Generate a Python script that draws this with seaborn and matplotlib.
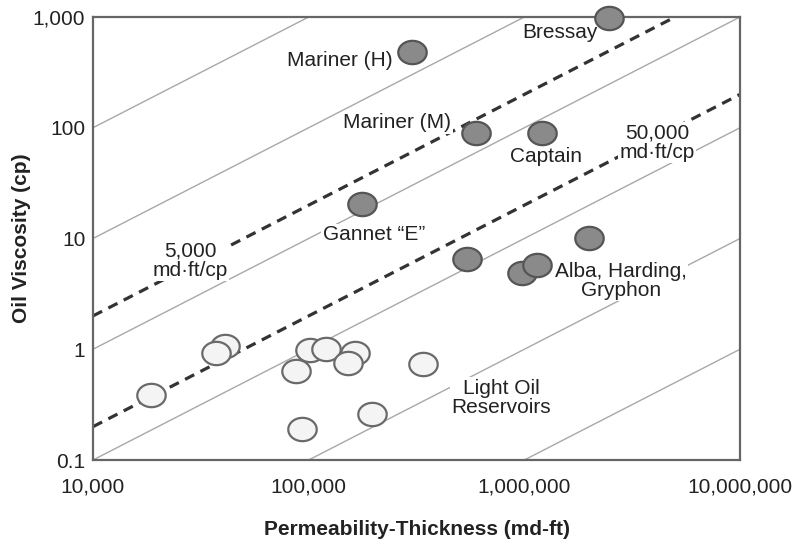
import numpy as np
import pandas as pd
import matplotlib
matplotlib.use("Agg")
import matplotlib.pyplot as plt
import seaborn as sns

# heavy-oil fields (dark markers)
heavy_kh = [2.47e6, 3.0e5, 6.0e5, 1.21e6, 1.77e5, 5.4e5, 2.0e6, 9.75e5, 1.14e6]
heavy_visc = [980, 480, 90, 90, 20.5, 6.5, 10.2, 4.9, 5.8]

# light-oil reservoirs (open markers)
light_kh = [4.1e4, 3.7e4, 1.86e4, 1.01e5, 1.2e5, 1.64e5, 1.52e5, 8.7e4, 3.39e5, 1.96e5, 9.3e4]
light_visc = [1.06, 0.93, 0.39, 0.98, 1.0, 0.92, 0.75, 0.64, 0.74, 0.26, 0.19]

# constant mobility-thickness lines (md-ft/cp)
solid_lines = [1e2, 1e3, 1e4, 1e5, 1e6, 1e7]
dashed_lines = [5e3, 5e4]

x_ticks = [1e4, 1e5, 1e6, 1e7]
x_tick_labels = ["10,000", "100,000", "1,000,000", "10,000,000"]
y_ticks = [0.1, 1, 10, 100, 1000]
y_tick_labels = ["0.1", "1", "10", "100", "1,000"]

# annotations: text, x, y
labels = [
    ("Mariner (H)", 1.40e5, 409),
    ("Bressay", 1.46e6, 718),
    ("Mariner (M)", 2.57e5, 111),
    ("Captain", 1.26e6, 54.7),
    ("50,000\nmd\u00b7ft/cp", 4.12e6, 73),
    ("Gannet \u201cE\u201d", 2.01e5, 10.8),
    ("5,000\nmd\u00b7ft/cp", 2.82e4, 6.3),
    ("Alba, Harding,\nGryphon", 2.8e6, 4.16),
    ("Light Oil\nReservoirs", 7.8e5, 0.366),
]

sns.set_style("white")
plt.rcParams["font.family"] = ["Liberation Sans", "DejaVu Sans"]

fig = plt.figure(figsize=(7.94, 5.44), dpi=100)
ax = fig.add_axes([93 / 794, 84 / 544, 647 / 794, 443 / 544])
ax.set_xscale("log")
ax.set_yscale("log")
ax.set_xlim(1e4, 1e7)
ax.set_ylim(0.1, 1000)

xs = np.array([1e4, 1e7])
for c in solid_lines:
    ax.plot(xs, xs / c, color="#a8a8a8", lw=1.0, zorder=1)
for c in dashed_lines:
    ax.plot(xs, xs / c, color="#333333", lw=2.3, dashes=(3.2, 2.2), zorder=2)

# slightly squashed circle like the original
t = np.linspace(0, 2 * np.pi, 60)
ellipse = np.column_stack([np.cos(t), 0.82 * np.sin(t)])

heavy = pd.DataFrame({"kh": heavy_kh, "visc": heavy_visc})
light = pd.DataFrame({"kh": light_kh, "visc": light_visc})
sns.scatterplot(data=light, x="kh", y="visc", marker=ellipse, s=420,
                color="#f4f4f4", edgecolor="#6a6a6a", linewidth=1.6,
                ax=ax, zorder=5, clip_on=False, legend=False)
sns.scatterplot(data=heavy, x="kh", y="visc", marker=ellipse, s=420,
                color="#8a8a8a", edgecolor="#555555", linewidth=1.6,
                ax=ax, zorder=5, clip_on=False, legend=False)

for txt, x, y in labels:
    ax.text(x, y, txt, ha="center", va="center", fontsize=15,
            color="#222222", linespacing=1.0, zorder=4,
            bbox=dict(facecolor="white", edgecolor="none", pad=1.0))

ax.set_xticks(x_ticks)
ax.set_xticklabels(x_tick_labels)
ax.set_yticks(y_ticks)
ax.set_yticklabels(y_tick_labels)
ax.minorticks_off()
ax.tick_params(axis="both", which="major", direction="inout", length=7,
               width=1.2, color="#555555", labelsize=15, labelcolor="#222222")
ax.tick_params(axis="x", pad=9)
ax.tick_params(axis="y", pad=2)
for sp in ax.spines.values():
    sp.set_color("#666666")
    sp.set_linewidth(1.6)

ax.set_xlabel("Permeability-Thickness (md-ft)", fontsize=15, fontweight="bold",
              color="#222222", labelpad=17)
ax.set_ylabel("Oil Viscosity (cp)", fontsize=15, fontweight="bold",
              color="#222222", labelpad=1)

fig.savefig("out.png", dpi=100)
